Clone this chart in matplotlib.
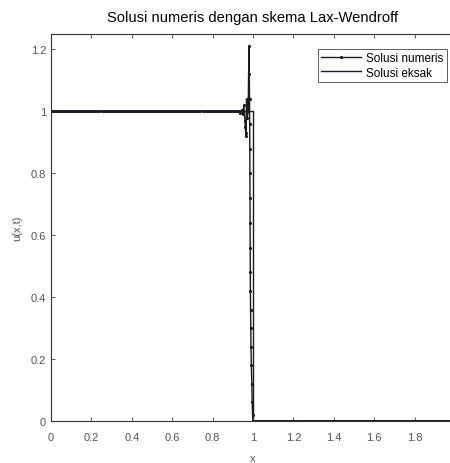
import numpy as np
import matplotlib.pyplot as plt

plt.rcParams['font.family'] = ['Liberation Sans', 'DejaVu Sans']

# numerical solution (Lax-Wendroff): flat part, oscillations behind the shock, flat zero part
x_flat_left = np.arange(0.0, 0.93, 0.01)
u_flat_left = np.ones_like(x_flat_left)

x_shock = [0.930, 0.937, 0.944, 0.950, 0.955, 0.960, 0.962, 0.964, 0.966, 0.968,
           0.972, 0.976, 0.980, 0.9815, 0.983, 0.9835, 0.984,
           0.9845, 0.985, 0.9855, 0.986, 0.9865, 0.987, 0.988, 0.989, 0.990,
           0.992, 0.994, 0.996, 0.998, 1.000]
u_shock = [1.00, 0.995, 1.005, 0.99, 1.02, 0.97, 0.95, 0.93, 0.92, 1.04,
           0.98, 1.00, 1.21, 1.12, 1.04, 0.96, 0.88,
           0.80, 0.72, 0.64, 0.56, 0.48, 0.42, 0.36, 0.30, 0.24,
           0.18, 0.12, 0.06, 0.02, 0.00]

x_flat_right = np.arange(1.01, 2.001, 0.01)
u_flat_right = np.zeros_like(x_flat_right)

x_num = np.concatenate([x_flat_left, x_shock, x_flat_right])
u_num = np.concatenate([u_flat_left, u_shock, u_flat_right])

# exact solution: step at x = 1
x_exact = [0.0, 1.0, 1.0, 2.0]
u_exact = [1.0, 1.0, 0.0, 0.0]

fig = plt.figure(figsize=(4.5, 4.64), dpi=100)
ax = fig.add_axes([51/450, 42/464, 404/450, 387/464])

ax.plot(x_num, u_num, '.-', color='#1a1a1a', lw=1.0, ms=2.5, label='Solusi numeris')
ax.plot(x_exact, u_exact, '-', color='#1a1a2a', lw=1.0, label='Solusi eksak')

ax.set_xlim(0, 2)
ax.set_ylim(0, 1.25)
ax.set_xticks(np.arange(0, 1.81, 0.2))
ax.set_xticklabels(['0', '0.2', '0.4', '0.6', '0.8', '1', '1.2', '1.4', '1.6', '1.8'])
ax.set_yticks(np.arange(0, 1.21, 0.2))
ax.set_yticklabels(['0', '0.2', '0.4', '0.6', '0.8', '1', '1.2'])
ax.tick_params(direction='in', length=3, width=0.6, top=True, right=True,
               labelsize=8, labelcolor='#555555', color='#444444')
ax.tick_params(axis='x', pad=8)
for s in ax.spines.values():
    s.set_linewidth(0.8)
    s.set_color('#333333')

ax.set_title('Solusi numeris dengan skema Lax-Wendroff', fontsize=10.6, pad=9)
ax.set_xlabel('x', fontsize=8, color='#555555', labelpad=8)
ax.set_ylabel('u(x,t)', fontsize=8, color='#555555', labelpad=6)

leg = ax.legend(loc='upper right', bbox_to_anchor=(0.98, 0.962), borderaxespad=0,
                fontsize=8.5, frameon=True, fancybox=False, handlelength=3.4,
                handletextpad=0.4, borderpad=0.3, labelspacing=0.2)
leg.get_frame().set_edgecolor('#333333')
leg.get_frame().set_linewidth(0.7)

fig.savefig('out.png', dpi=100)
